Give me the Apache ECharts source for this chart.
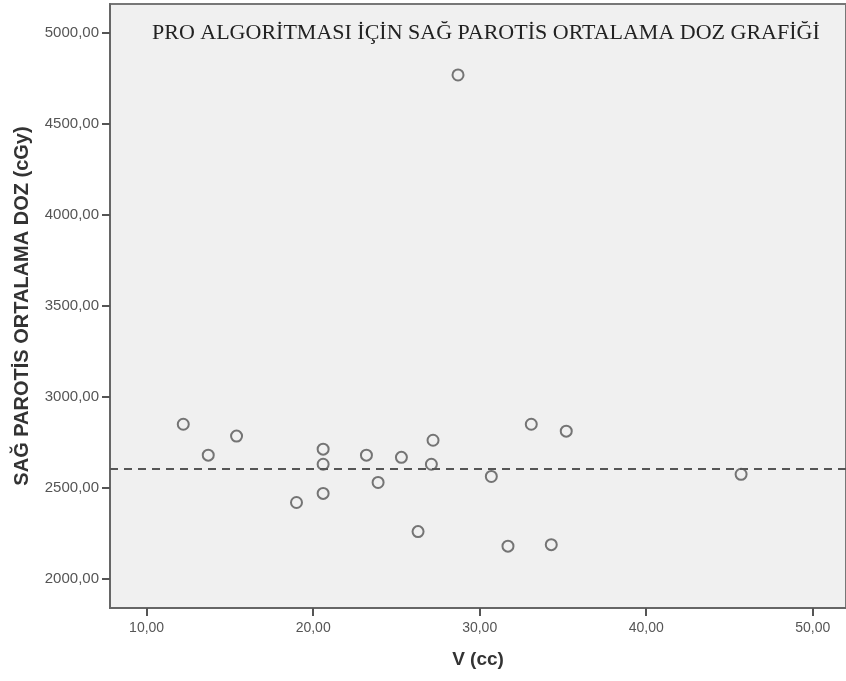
<!DOCTYPE html>
<html><head><meta charset="utf-8">
<script src="https://cdn.jsdelivr.net/npm/echarts@6/dist/echarts.min.js"></script>
<style>html,body{margin:0;padding:0;background:#fff}#c{width:846px;height:681px}</style>
</head><body><div id="c"></div>
<script>
const titleText = 'PRO ALGORİTMASI İÇİN SAĞ PAROTİS ORTALAMA DOZ GRAFİĞİ';
const xName = 'V (cc)';
const yName = 'SAĞ PAROTİS ORTALAMA DOZ (cGy)';
const volumes = [12.2, 13.7, 15.4, 19.0, 20.6, 20.6, 20.6, 23.2, 23.9, 25.3, 26.3, 27.2, 27.1, 30.7, 31.7, 33.1, 34.3, 35.2, 45.7, 28.7];
const doses   = [2850, 2680, 2785, 2420, 2713, 2630, 2470, 2680, 2530, 2668, 2260, 2762, 2630, 2563, 2180, 2850, 2188, 2812, 2575, 4770];
const meanDose = 2605;
const xTicks = [10, 20, 30, 40, 50];
const yTicks = [2000, 2500, 3000, 3500, 4000, 4500, 5000];

const fmt = v => v.toFixed(2).replace('.', ',');
const chart = echarts.init(document.getElementById('c'));
chart.setOption({
  animation: false,
  backgroundColor: '#ffffff',
  title: {
    text: titleText, left: 147, top: 17,
    textStyle: {fontFamily: 'Liberation Serif', fontWeight: 'normal', fontSize: 22, color: '#222'}
  },
  grid: {left: 110, right: 0, top: 4, bottom: 73, show: true, backgroundColor: '#f0f0f0', borderColor: '#777', borderWidth: 2},
  xAxis: {
    type: 'value', min: 7.8, max: 52,
    name: xName, nameLocation: 'middle', nameGap: 42,
    nameTextStyle: {fontFamily: 'Liberation Sans', fontWeight: 'bold', fontSize: 19, color: '#333'},
    axisLine: {show: true, lineStyle: {color: '#666', width: 2}},
    axisTick: {show: true, length: 8, lineStyle: {color: '#555', width: 2}, customValues: xTicks},
    axisLabel: {fontFamily: 'Liberation Sans', fontSize: 14, color: '#555', margin: 13, customValues: xTicks, formatter: fmt},
    splitLine: {show: false}
  },
  yAxis: {
    type: 'value', min: 1840, max: 5160,
    name: yName, nameLocation: 'middle', nameGap: 78, nameRotate: 90,
    nameTextStyle: {fontFamily: 'Liberation Sans', fontWeight: 'bold', fontSize: 20, color: '#333'},
    axisLine: {show: true, lineStyle: {color: '#666', width: 2}},
    axisTick: {show: true, length: 8, lineStyle: {color: '#555', width: 2}, customValues: yTicks},
    axisLabel: {fontFamily: 'Liberation Sans', fontSize: 15, color: '#555', margin: 11, customValues: yTicks, formatter: fmt},
    splitLine: {show: false}
  },
  series: [{
    type: 'scatter',
    data: volumes.map((v, i) => [v, doses[i]]),
    symbol: 'circle', symbolSize: 11,
    itemStyle: {color: 'transparent', borderColor: '#555', borderWidth: 2},
    markLine: {
      silent: true, symbol: 'none', label: {show: false},
      lineStyle: {color: '#555', type: [8, 6], width: 2},
      data: [{yAxis: meanDose}]
    }
  }]
});
</script></body></html>
